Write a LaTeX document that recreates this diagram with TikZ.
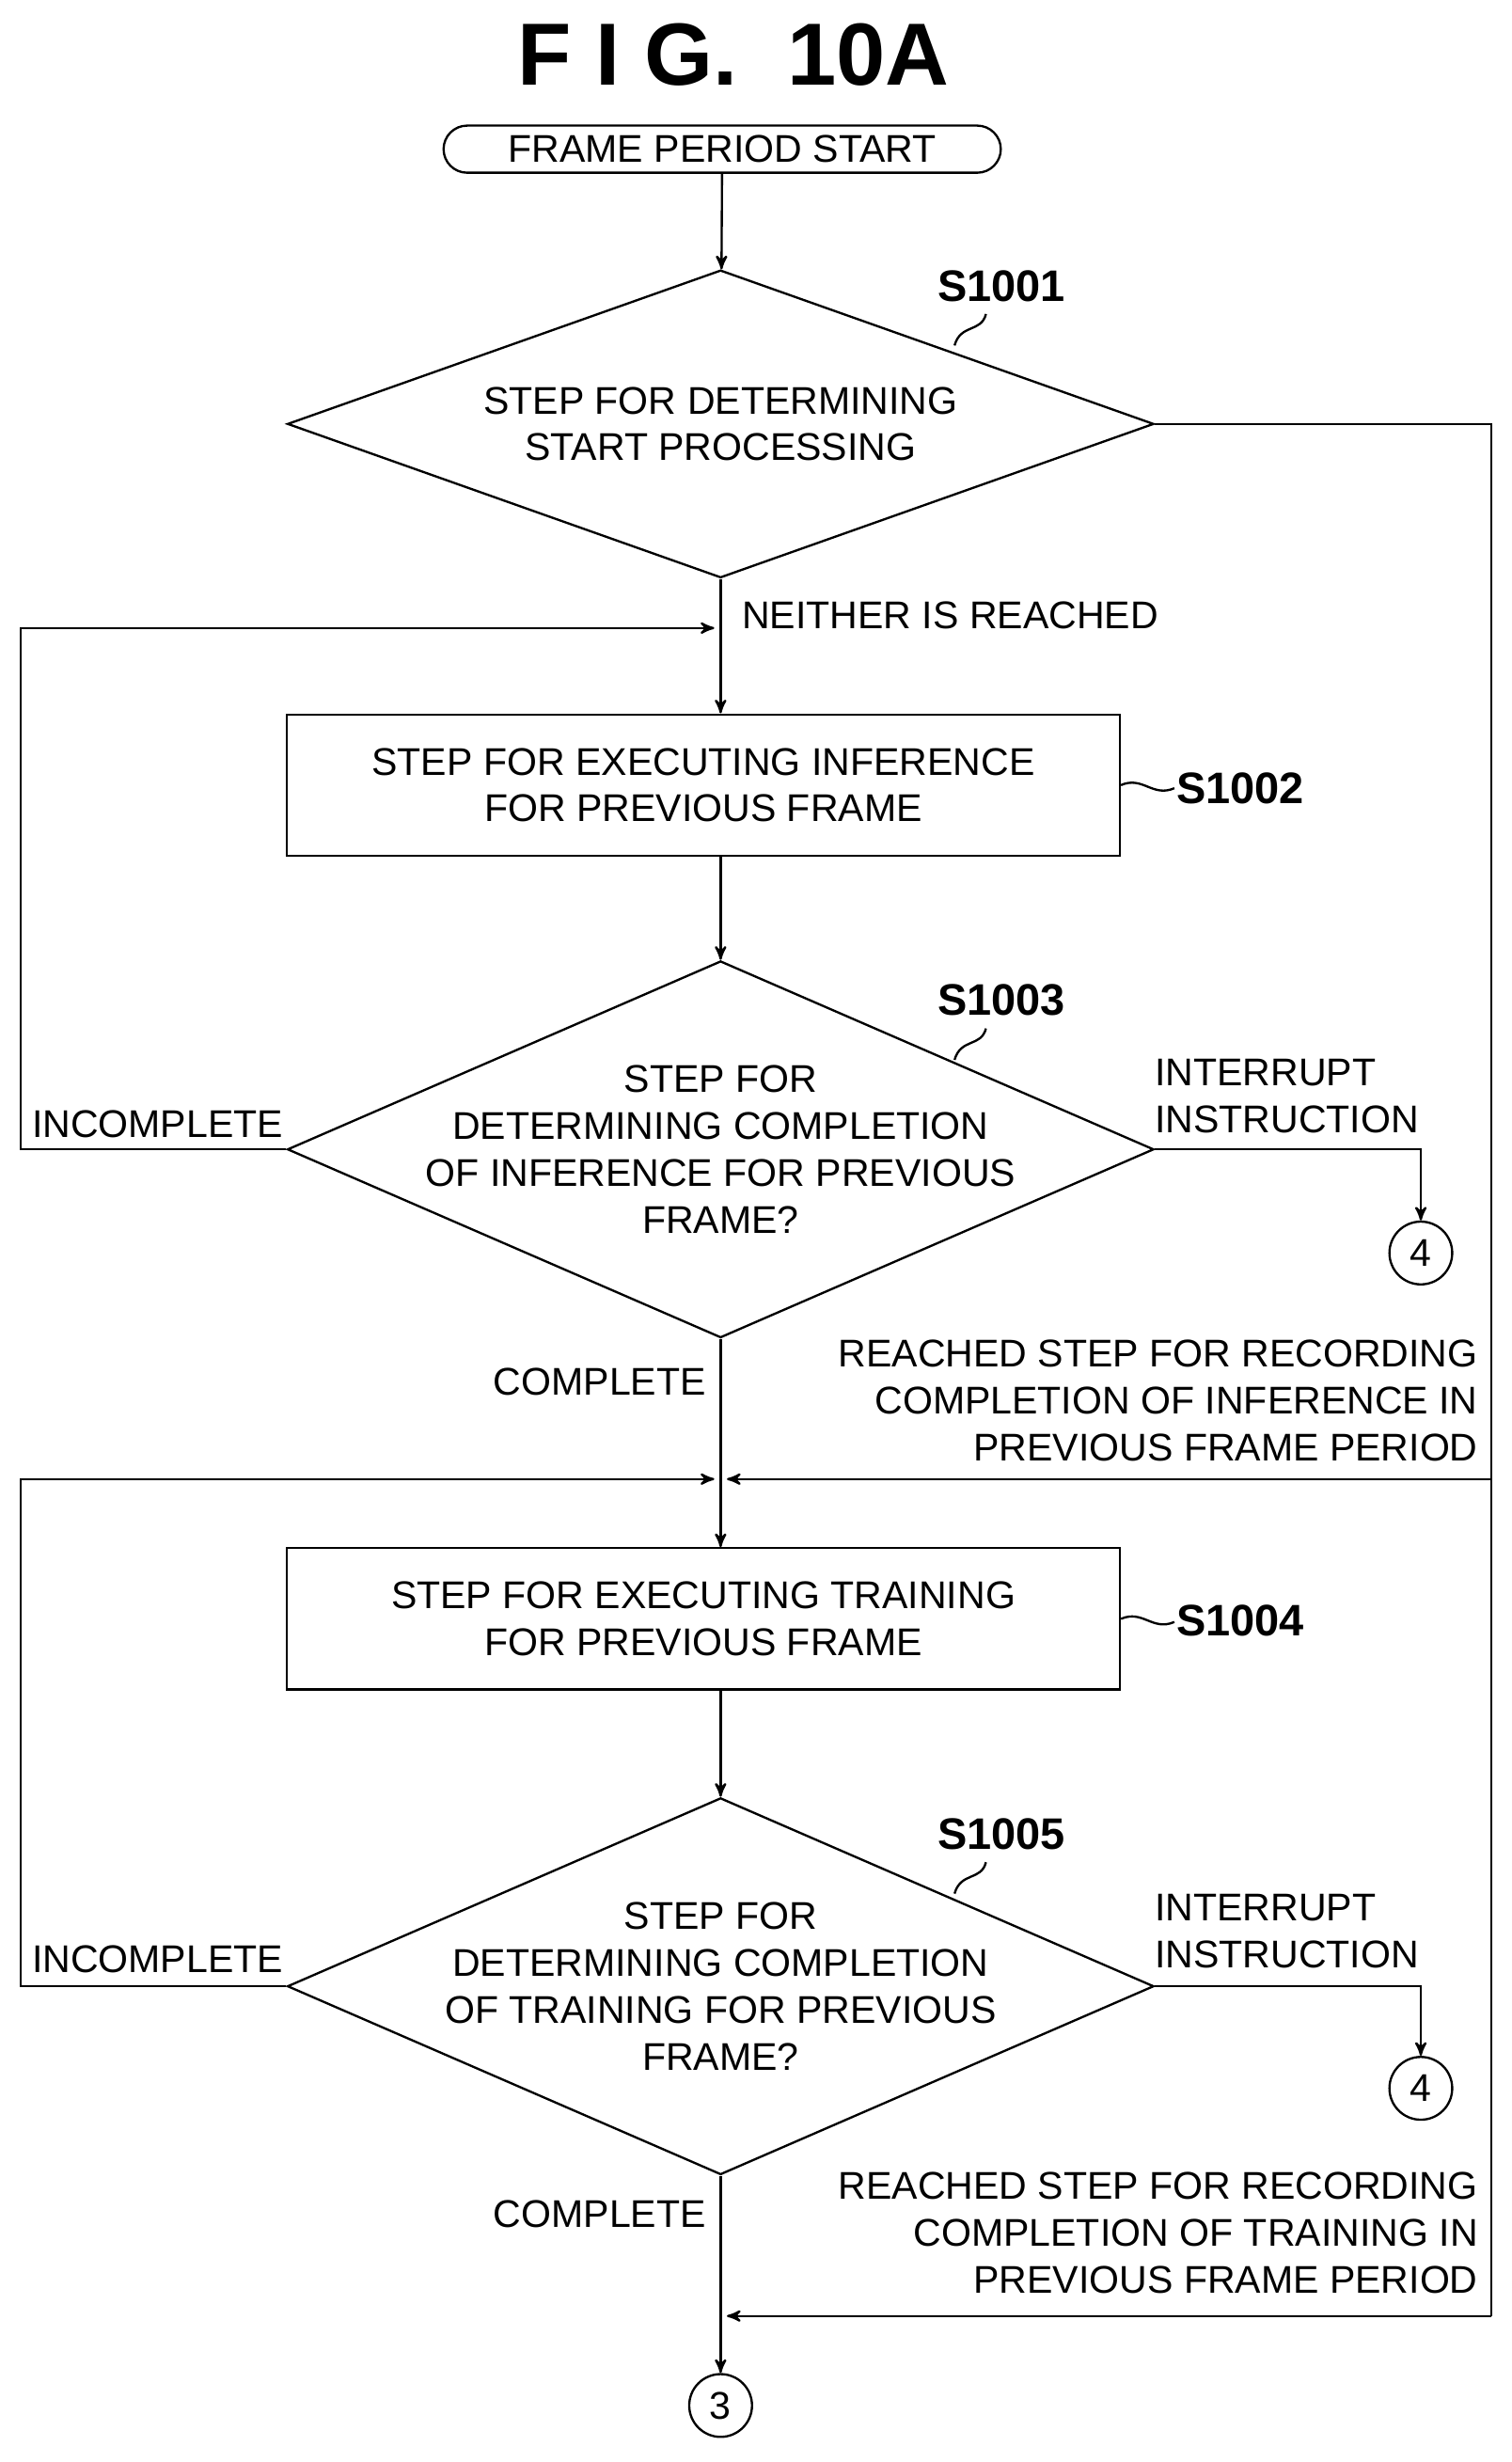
\documentclass[tikz,border=0pt]{standalone}
\usepackage{fontspec}
\setmainfont{Liberation Sans}
\usetikzlibrary{arrows, shapes.geometric, positioning}
\tikzstyle{txt}=[font=\fontsize{14}{17}\selectfont, align=center, inner sep=0pt]
\tikzstyle{process}=[draw, thick, minimum width=10.62cm, minimum height=1.8cm, txt]
\tikzstyle{decision}=[draw, thick, diamond, inner sep=0pt, minimum width=11.04cm]
\tikzstyle{conn}=[draw, thick, circle, minimum size=0.8cm, txt]
\tikzstyle{tag}=[font=\bfseries\fontsize{16}{20}\selectfont, inner sep=0pt]

\begin{document}
\begin{tikzpicture}[x=0.02cm, y=-0.02cm, thick, >=stealth']
    \useasboundingbox (0,0) rectangle (963,1568);
    \node[font=\bfseries\fontsize{32}{36}\selectfont] (title) at (467,35) {F I G.\ \ 10A};
    \node[draw, thick, rounded corners=0.3cm, minimum width=7.1cm, minimum height=0.6cm, txt] (start) at (460,95) {FRAME PERIOD START};
    \node[decision, minimum height=3.92cm] (d1) at (459,270) {};
    \node[txt] (d1t) at (d1) {STEP FOR DETERMINING\\START PROCESSING};
    \node[process] (s2) at (448,500) {STEP FOR EXECUTING INFERENCE\\FOR PREVIOUS FRAME};
    \node[decision, minimum height=4.8cm] (d3) at (459,732) {};
    \node[txt] (d3t) at (d3) {STEP FOR\\DETERMINING COMPLETION\\OF INFERENCE FOR PREVIOUS\\FRAME?};
    \node[process] (s4) at (448,1031) {STEP FOR EXECUTING TRAINING\\FOR PREVIOUS FRAME};
    \node[decision, minimum height=4.8cm] (d5) at (459,1265) {};
    \node[txt] (d5t) at (d5) {STEP FOR\\DETERMINING COMPLETION\\OF TRAINING FOR PREVIOUS\\FRAME?};
    \node[conn] (c4a) at (905,798) {4};
    \node[conn] (c4b) at (905,1330) {4};
    \node[conn] (c3) at (459,1532) {3};

    % step tags
    \node[tag] (t1) at (638,182) {S1001};
    \node[tag] (t2) at (790,502) {S1002};
    \node[tag] (t3) at (638,637) {S1003};
    \node[tag] (t4) at (790,1032) {S1004};
    \node[tag] (t5) at (638,1168) {S1005};
    \draw (628,200) .. controls (625,212) and (612,206) .. (608,220);
    \draw (628,655) .. controls (625,667) and (612,661) .. (608,675);
    \draw (628,1186) .. controls (625,1198) and (612,1192) .. (608,1206);
    \draw (714,500) .. controls (728,494) and (734,508) .. (748,502);
    \draw (714,1031) .. controls (728,1025) and (734,1039) .. (748,1033);

    % labels
    \node[txt, anchor=west] (l1) at (472,392) {NEITHER IS REACHED};
    \node[txt, anchor=east] (l2) at (181,716) {INCOMPLETE};
    \node[txt, anchor=west, align=left] (l3) at (735,698) {INTERRUPT\\INSTRUCTION};
    \node[txt] (l4) at (382,880) {COMPLETE};
    \node[txt, anchor=east, align=right] (l5) at (942,892) {REACHED STEP FOR RECORDING\\COMPLETION OF INFERENCE IN\\PREVIOUS FRAME PERIOD};
    \node[txt, anchor=east] (l6) at (181,1248) {INCOMPLETE};
    \node[txt, anchor=west, align=left] (l7) at (735,1230) {INTERRUPT\\INSTRUCTION};
    \node[txt] (l8) at (382,1410) {COMPLETE};
    \node[txt, anchor=east, align=right] (l9) at (942,1422) {REACHED STEP FOR RECORDING\\COMPLETION OF TRAINING IN\\PREVIOUS FRAME PERIOD};

    \coordinate (m1) at (459,400);
    \coordinate (m2) at (459,942);
    \coordinate (m3) at (459,1475);

    % connectors
    \draw[->] (start) -- (d1);
    \draw[->] (d1) -- (s2.north -| d1);
    \draw[->] (s2.south -| d3) -- (d3);
    \draw[->] (d3) -- (s4.north -| d3);
    \draw[->] (s4.south -| d5) -- (d5);
    \draw[->] (d5) -- (c3);
    \draw[->] (d3.west) -- (13,732) -- (13,400) -- ([xshift=-0.08cm]m1);
    \draw[->] (d5.west) -- (13,1265) -- (13,942) -- ([xshift=-0.08cm]m2);
    \draw[->] (d3.east) -- (905,732) -- (c4a);
    \draw[->] (d5.east) -- (905,1265) -- (c4b);
    \draw (d1.east) -- (950,270) -- (950,1475);
    \draw[->] (950,942) -- ([xshift=0.08cm]m2);
    \draw[->] (950,1475) -- ([xshift=0.08cm]m3);
\end{tikzpicture}
\end{document}
